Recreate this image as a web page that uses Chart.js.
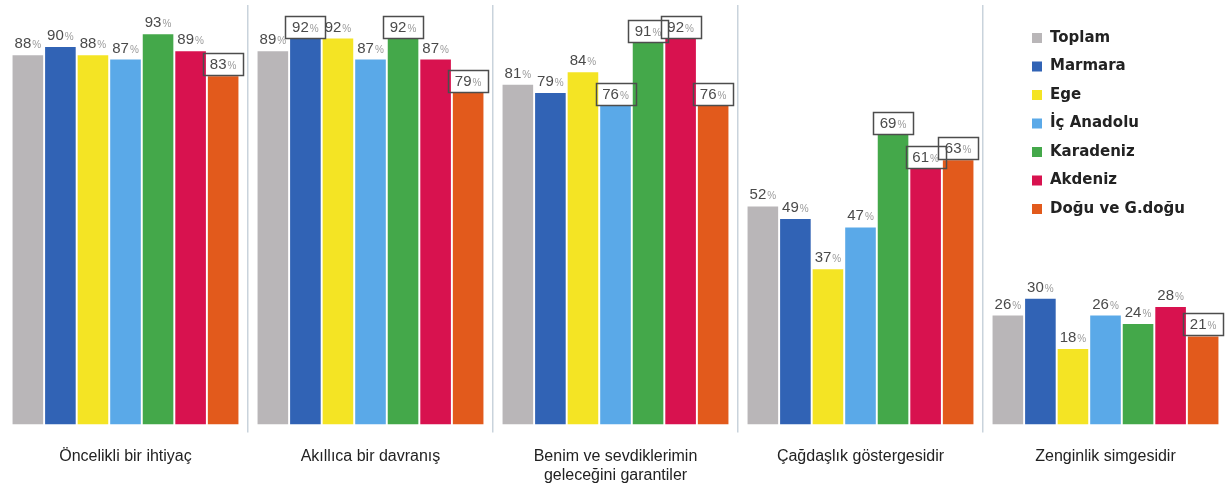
<!DOCTYPE html>
<html>
<head>
<meta charset="utf-8">
<script src="https://cdn.jsdelivr.net/npm/chart.js@4.4.0/dist/chart.umd.min.js"></script>
<style>
  html, body { margin: 0; padding: 0; background: #fff; }
  #wrap { width: 1232px; height: 503px; position: relative; }
</style>
</head>
<body>
<div id="wrap"><canvas id="myChart"></canvas></div>
<script>
var categories = [
    'Öncelikli bir ihtiyaç',
    'Akıllıca bir davranış',
    ['Benim ve sevdiklerimin', 'geleceğini garantiler'],
    'Çağdaşlık göstergesidir',
    'Zenginlik simgesidir'
];

var regions = ['Toplam', 'Marmara', 'Ege', 'İç Anadolu', 'Karadeniz', 'Akdeniz', 'Doğu ve G.doğu'];

var toplam    = [88, 89, 81, 52, 26];
var marmara   = [90, 92, 79, 49, 30];
var ege       = [88, 92, 84, 37, 18];
var icAnadolu = [87, 87, 76, 47, 26];
var karadeniz = [93, 92, 91, 69, 24];
var akdeniz   = [89, 87, 92, 61, 28];
var doguGdogu = [83, 79, 76, 63, 21];

// labels drawn inside a frame in the original
var boxToplam    = [false, false, false, false, false];
var boxMarmara   = [false, true, false, false, false];
var boxEge       = [false, false, false, false, false];
var boxIcAnadolu = [false, false, true, false, false];
var boxKaradeniz = [false, true, true, true, false];
var boxAkdeniz   = [false, false, true, true, false];
var boxDogu      = [true, true, true, true, true];

var colors = ['#b9b6b8', '#3163b5', '#f4e424', '#5aa9e8', '#44a84a', '#d8124f', '#e25a1c'];

var seriesValues = [toplam, marmara, ege, icAnadolu, karadeniz, akdeniz, doguGdogu];
var seriesBoxes = [boxToplam, boxMarmara, boxEge, boxIcAnadolu, boxKaradeniz, boxAkdeniz, boxDogu];

var datasets = [];
for (let i = 0; i < regions.length; i++) {
    datasets.push({
        label: regions[i],
        data: seriesValues[i],
        boxed: seriesBoxes[i],
        backgroundColor: colors[i],
        borderWidth: 0,
        barPercentage: 0.94,
        categoryPercentage: 0.93
    });
}

// value labels above bars
const valueLabels = {
    id: 'valueLabels',
    afterDatasetsDraw(chart) {
        const ctx = chart.ctx;
        ctx.save();
        chart.data.datasets.forEach((ds, di) => {
            const meta = chart.getDatasetMeta(di);
            meta.data.forEach((bar, i) => {
                const num = String(ds.data[i]);
                ctx.font = '15px "Liberation Sans", Arial, sans-serif';
                const w1 = ctx.measureText(num).width;
                ctx.font = '10px "Liberation Sans", Arial, sans-serif';
                const w2 = ctx.measureText('%').width;
                const total = w1 + w2 + 1;
                const x0 = bar.x - total / 2;
                const yb = bar.y - 7;
                ctx.textBaseline = 'alphabetic';
                ctx.textAlign = 'left';
                ctx.fillStyle = '#4a4a4a';
                ctx.font = '15px "Liberation Sans", Arial, sans-serif';
                ctx.fillText(num, x0, yb);
                ctx.fillStyle = '#9a9a9a';
                ctx.font = '10px "Liberation Sans", Arial, sans-serif';
                ctx.fillText('%', x0 + w1 + 1, yb);
                if (ds.boxed[i]) {
                    ctx.strokeStyle = '#4d4d4d';
                    ctx.lineWidth = 1.5;
                    ctx.strokeRect(Math.round(bar.x - 20) + 0.5, Math.round(yb - 16) + 0.5, 40, 22);
                }
            });
        });
        ctx.restore();
    }
};

// legend inside the plot, top right
const insideLegend = {
    id: 'insideLegend',
    afterDraw(chart) {
        const ctx = chart.ctx;
        const x = chart.chartArea.right - 196;
        let y = 38;
        ctx.save();
        ctx.font = 'bold 15px "DejaVu Sans", sans-serif';
        ctx.textBaseline = 'middle';
        ctx.textAlign = 'left';
        chart.data.datasets.forEach((ds) => {
            ctx.fillStyle = ds.backgroundColor;
            ctx.fillRect(x, y - 5, 10, 10);
            ctx.fillStyle = '#222';
            ctx.fillText(ds.label, x + 18, y);
            y += 28.5;
        });
        ctx.restore();
    }
};

var ctx = document.getElementById('myChart').getContext('2d');
var myChart = new Chart(ctx, {
    type: 'bar',
    data: {
        labels: categories,
        datasets: datasets
    },
    options: {
        responsive: true,
        maintainAspectRatio: false,
        animation: false,
        layout: { padding: { left: 3, right: 4, top: 5, bottom: 4 } },
        plugins: {
            legend: { display: false },
            tooltip: { enabled: false }
        },
        scales: {
            y: {
                display: false,
                min: 0,
                max: 100
            },
            x: {
                border: { display: false },
                grid: {
                    offset: true,
                    color: (c) => (c.type === 'tick' && c.index > 0) ? '#c9d3dc' : 'rgba(0,0,0,0)',
                    lineWidth: 1.5,
                    tickLength: 8
                },
                ticks: {
                    color: '#222',
                    padding: 14,
                    font: { family: '"Liberation Sans", Arial, sans-serif', size: 16 }
                }
            }
        }
    },
    plugins: [valueLabels, insideLegend]
});
</script>
</body>
</html>
